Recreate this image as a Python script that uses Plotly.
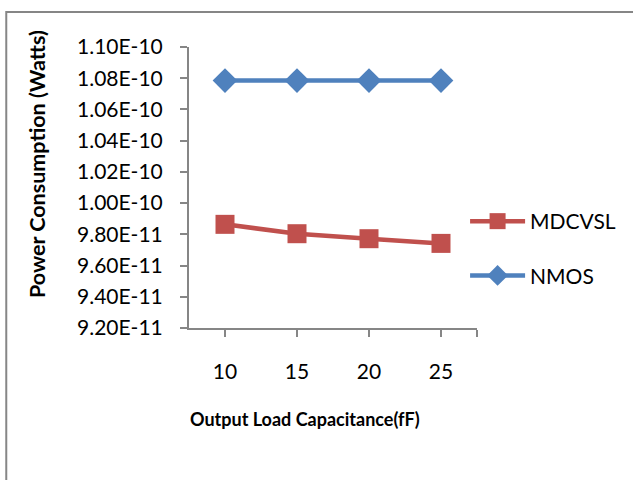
import plotly.graph_objects as go

# Output load capacitance (fF)
load_fF = [10, 15, 20, 25]

# Power consumption (W)
mdcvsl_power = [9.864e-11, 9.804e-11, 9.772e-11, 9.742e-11]
nmos_power = [1.0785e-10, 1.0785e-10, 1.0785e-10, 1.0785e-10]

y_tickvals = [9.2e-11, 9.4e-11, 9.6e-11, 9.8e-11, 1.0e-10, 1.02e-10, 1.04e-10, 1.06e-10, 1.08e-10, 1.10e-10]
y_ticktext = ["9.20E-11", "9.40E-11", "9.60E-11", "9.80E-11", "1.00E-10",
              "1.02E-10", "1.04E-10", "1.06E-10", "1.08E-10", "1.10E-10"]
x_tickvals = [10, 15, 20, 25, 27.5]
x_ticktext = ["10", "15", "20", "25", ""]

RED = "#C0504D"
BLUE = "#4F81BD"
AXIS = "#868686"
FONT = "Lato, 'Open Sans', sans-serif"

W, H = 633, 480
L, R, T, B = 189, 154, 47, 152
pw, ph = W - L - R, H - T - B


def px_x(x):
    return (x - L) / pw


def px_y(y):
    return (H - B - y) / ph


fig = go.Figure()
fig.add_trace(go.Scatter(
    x=load_fF, y=mdcvsl_power, name="MDCVSL", mode="lines+markers",
    line=dict(color=RED, width=4.5),
    marker=dict(symbol="square", size=19, color=RED),
    legendgroup="a", cliponaxis=False,
))
fig.add_trace(go.Scatter(
    x=load_fF, y=nmos_power, name="NMOS", mode="lines+markers",
    line=dict(color=BLUE, width=4.5),
    marker=dict(symbol="diamond", size=19, color=BLUE),
    legendgroup="b", cliponaxis=False,
))

fig.update_layout(
    width=W, height=H,
    margin=dict(l=L, r=R, t=T, b=B),
    paper_bgcolor="white", plot_bgcolor="white",
    font=dict(family=FONT, size=21, color="black"),
    showlegend=True,
    legend=dict(
        x=px_x(467), y=px_y(201), xanchor="left", yanchor="top",
        bgcolor="rgba(0,0,0,0)", font=dict(size=21),
        tracegroupgap=24, itemwidth=55,
    ),
    xaxis=dict(
        range=[7.5, 27.5], tickvals=x_tickvals, ticktext=x_ticktext,
        showgrid=False, zeroline=False, showline=True, linecolor=AXIS, linewidth=2,
        ticks="outside", ticklen=7, tickcolor=AXIS, tickwidth=2,
        ticklabelstandoff=17,
    ),
    yaxis=dict(
        range=[9.2e-11, 1.10e-10], tickvals=y_tickvals, ticktext=y_ticktext,
        showgrid=False, zeroline=False, showline=True, linecolor=AXIS, linewidth=2,
        ticks="outside", ticklen=7, tickcolor=AXIS, tickwidth=2,
        ticklabelstandoff=13,
    ),
    annotations=[
        dict(text="<b>Power Consumption (Watts)</b>", textangle=-90,
             xref="paper", yref="paper", x=px_x(36), y=px_y(164),
             xanchor="center", yanchor="middle", showarrow=False,
             font=dict(size=21.5, family=FONT)),
        dict(text="<b>Output Load Capacitance(fF)</b>",
             xref="paper", yref="paper", x=px_x(306), y=px_y(419),
             xanchor="center", yanchor="middle", showarrow=False,
             font=dict(size=18, family=FONT)),
    ],
    shapes=[
        dict(type="rect", xref="paper", yref="paper",
             x0=px_x(5), y0=px_y(490), x1=px_x(645), y1=px_y(12),
             line=dict(color=AXIS, width=2), fillcolor="rgba(0,0,0,0)", layer="below"),
    ],
)

fig.write_html("out.html")
